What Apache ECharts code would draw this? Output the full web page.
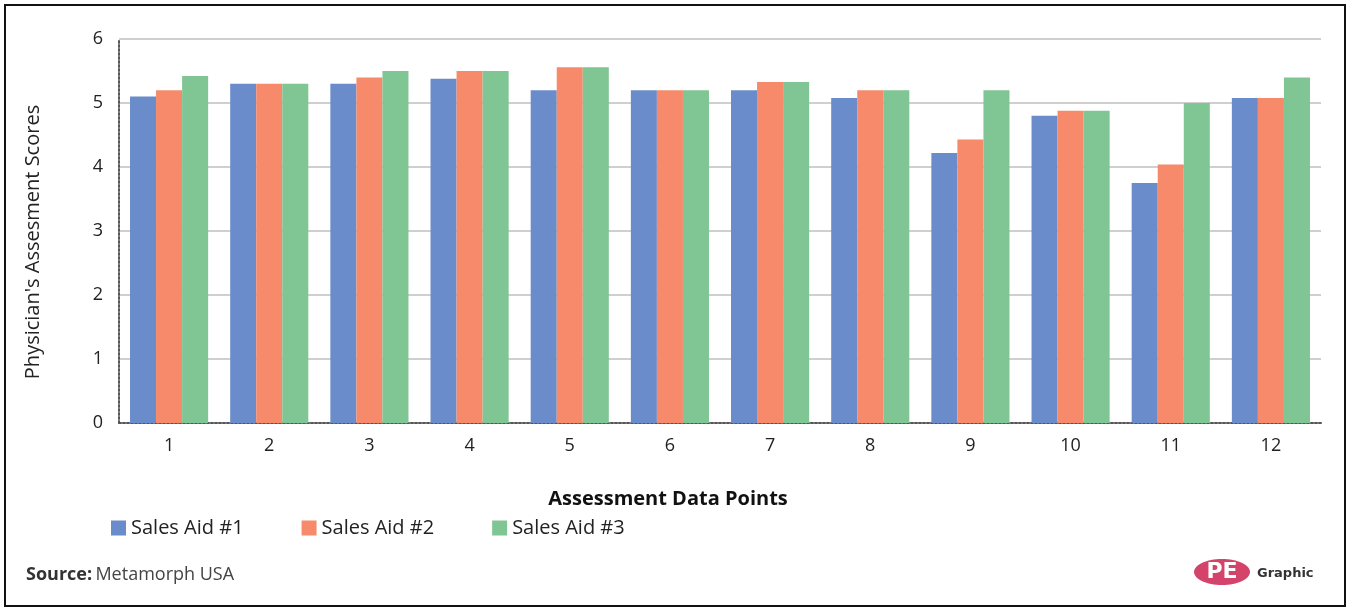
<!DOCTYPE html>
<html>
<head>
<meta charset="utf-8">
<script src="https://cdn.jsdelivr.net/npm/echarts@6/dist/echarts.min.js"></script>
<style>
  html, body { margin: 0; padding: 0; background: #fff; }
  #chart { width: 1350px; height: 612px; }
</style>
</head>
<body>
<div id="chart"></div>
<script>
const categories = ['1', '2', '3', '4', '5', '6', '7', '8', '9', '10', '11', '12']
const seriesNames = ['Sales Aid #1', 'Sales Aid #2', 'Sales Aid #3']
const salesAid1 = [5.1, 5.3, 5.3, 5.38, 5.2, 5.2, 5.2, 5.08, 4.22, 4.8, 3.75, 5.08]
const salesAid2 = [5.2, 5.3, 5.4, 5.5, 5.56, 5.2, 5.33, 5.2, 4.43, 4.88, 4.04, 5.08]
const salesAid3 = [5.42, 5.3, 5.5, 5.5, 5.56, 5.2, 5.33, 5.2, 5.2, 4.88, 5.0, 5.4]
const yTicks = [0, 1, 2, 3, 4, 5, 6]

const COLORS = ['#6b8cca', '#f68a6b', '#7fc694']
const FONT = '"Open Sans", "Noto Sans", sans-serif'

const chart = echarts.init(document.getElementById('chart'), null, { renderer: 'canvas' })

chart.setOption({
  backgroundColor: '#fff',
  animation: false,
  textStyle: { fontFamily: FONT },
  grid: { left: 119, right: 29, top: 39, bottom: 189, containLabel: false },
  legend: {
    left: 106,
    top: 513,
    itemWidth: 15,
    itemHeight: 15,
    itemGap: 58,
    icon: 'rect',
    textStyle: { fontSize: 20, color: '#222', fontFamily: FONT },
    data: seriesNames,
  },
  xAxis: {
    type: 'category',
    data: categories,
    name: 'Assessment Data Points',
    nameLocation: 'middle',
    nameGap: 66,
    nameTextStyle: { fontSize: 20, fontWeight: 'bold', color: '#111', padding: [0, 104, 0, 0] },
    axisLine: { lineStyle: { color: '#555', type: 'dotted', width: 2 } },
    axisTick: { show: false },
    axisLabel: { fontSize: 18, color: '#222', margin: 14 },
  },
  yAxis: {
    type: 'value',
    min: 0,
    max: 6,
    interval: 1,
    name: "Physician's Assesment Scores",
    nameLocation: 'middle',
    nameGap: 76,
    nameTextStyle: { fontSize: 20, color: '#222', padding: [0, 22, 0, 0] },
    axisLine: { show: true, lineStyle: { color: '#555', type: 'dotted', width: 2 } },
    axisTick: { show: false },
    axisLabel: { fontSize: 18, color: '#222', margin: 16, formatter: v => (yTicks.includes(v) ? String(v) : '') },
    splitLine: { lineStyle: { color: '#cfcfcf', width: 2 } },
  },
  series: [salesAid1, salesAid2, salesAid3].map((data, idx) => ({
    name: seriesNames[idx],
    type: 'bar',
    data,
    barGap: '0%',
    barCategoryGap: '22%',
    itemStyle: { color: COLORS[idx] },
  })),
  graphic: [
    {
      type: 'rect',
      shape: { x: 5, y: 5, width: 1340, height: 601 },
      style: { fill: 'none', stroke: '#111', lineWidth: 2 },
      silent: true,
    },
    {
      type: 'text',
      left: 26,
      top: 566,
      style: {
        text: '{b|Source:} {n|Metamorph USA}',
        rich: {
          b: { fontSize: 18, fontWeight: 'bold', fill: '#333', fontFamily: FONT },
          n: { fontSize: 18, fill: '#444', fontFamily: FONT },
        },
      },
    },
    {
      type: 'ellipse',
      shape: { cx: 1222, cy: 572, rx: 28, ry: 13 },
      style: { fill: '#d4436a' },
    },
    {
      type: 'text',
      x: 1222,
      y: 572,
      style: {
        text: 'PE',
        fontSize: 22,
        fontWeight: 'bold',
        fontFamily: '"DejaVu Sans", sans-serif',
        fill: '#fff',
        align: 'center',
        verticalAlign: 'middle',
      },
    },
    {
      type: 'text',
      x: 1257,
      y: 574,
      style: {
        text: 'Graphic',
        fontSize: 13,
        fontWeight: 'bold',
        fontFamily: '"DejaVu Sans", sans-serif',
        fill: '#333',
        verticalAlign: 'middle',
      },
    },
  ],
})
</script>
</body>
</html>
